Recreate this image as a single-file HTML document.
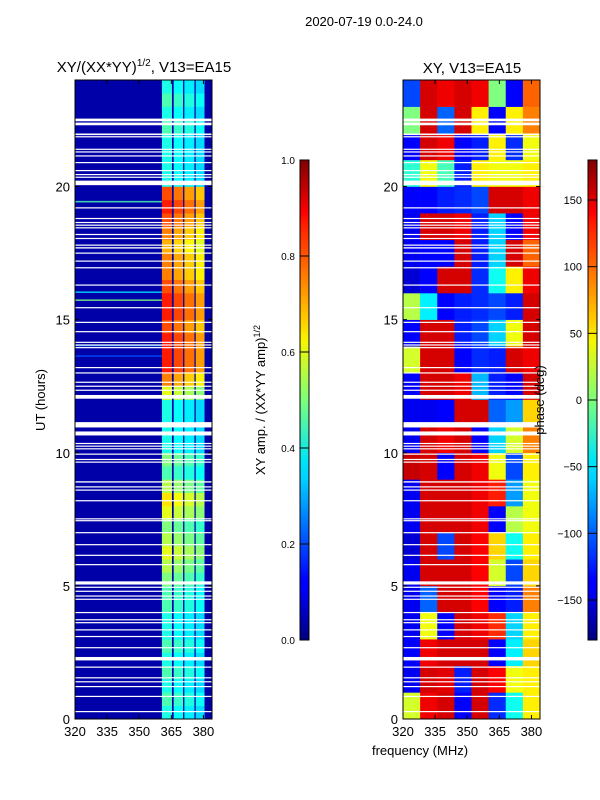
<!DOCTYPE html>
<html><head><meta charset="utf-8"><style>
html,body{margin:0;padding:0;background:#fff;}
svg{display:block;font-family:"Liberation Sans",sans-serif;}
</style></head><body>
<svg id="fig" width="600" height="800" viewBox="0 0 600 800" xmlns="http://www.w3.org/2000/svg">
<defs>
<linearGradient id="jetV" x1="0" y1="1" x2="0" y2="0">
<stop offset="0" stop-color="#00007f"/><stop offset="0.11" stop-color="#0000ff"/><stop offset="0.125" stop-color="#0000ff"/>
<stop offset="0.34" stop-color="#00d4ff"/><stop offset="0.375" stop-color="#00e5f8"/><stop offset="0.5" stop-color="#7dff7a"/>
<stop offset="0.625" stop-color="#f8f500"/><stop offset="0.66" stop-color="#ffd200"/><stop offset="0.875" stop-color="#ff1400"/>
<stop offset="0.89" stop-color="#ff0000"/><stop offset="1" stop-color="#7f0000"/>
</linearGradient>
</defs>
<text x="364" y="26" font-size="13" text-anchor="middle">2020-07-19 0.0-24.0</text>
<text x="144" y="72" font-size="15" text-anchor="middle">XY/(XX*YY)<tspan font-size="10" dy="-6">1/2</tspan><tspan dy="6">, V13=EA15</tspan></text>
<text x="472" y="73" font-size="15" text-anchor="middle">XY, V13=EA15</text>
<g id="ampPanel"></g>
<g id="phasePanel"></g>
<g id="axes"></g>
<text transform="translate(45,400) rotate(-90)" font-size="13" text-anchor="middle">UT (hours)</text>
<text transform="translate(265,400) rotate(-90)" font-size="13" text-anchor="middle">XY amp. / (XX*YY amp)<tspan font-size="9" dy="-5">1/2</tspan></text>
<text transform="translate(544,400) rotate(-90)" font-size="13" text-anchor="middle">phase (deg)</text>
<text x="420" y="755" font-size="13" text-anchor="middle">frequency (MHz)</text>
<rect x="300" y="160" width="9" height="480" fill="url(#jetV)" stroke="#000" stroke-width="1"/>
<rect x="588" y="160" width="9" height="480" fill="url(#jetV)" stroke="#000" stroke-width="1"/>
<g id="cbticks"></g>
</svg>
<script>
// ---- data ----
const ampHalfHour = [0.4,0.45,0.4,0.45,0.4,0.45,0.4,0.4,0.45,0.45,0.5,0.55,0.6,0.55,0.5,0.6,0.65,0.55,0.45,0.5,0.4,0.4,0.4,0.4,
  0.6,0.75,0.85,0.85,0.85,0.8,0.85,0.85,0.8,0.75,0.75,0.7,0.75,0.8,0.85,0.8,0.4,0.4,0.4,0.4,0.45,0.4,0.45,0.4];
const stripeFreqs = [[360.6,365.3],[366.1,370.5],[371.1,375.8],[376.4,380.5]];
const stripeScale = [1.0,0.95,0.9,0.85];
const ampBackground = 0.04;
const ampStreaks = [[19.4,0.45],[16.0,0.35],[15.7,0.5],[14.0,0.3],[13.6,0.2]];
const phaseFreqEdges = [320,328,336,344,352,360,368,376,384];
const phaseHourly = [
 [30,140,150,-135,150,-120,-40,50],
 [-140,150,145,-125,150,135,40,50],
 [-135,140,150,150,150,-135,-50,60],
 [-140,40,-135,150,140,120,-60,50],
 [-140,-100,150,150,135,-135,-125,90],
 [-140,150,150,150,135,30,-110,60],
 [-150,150,-110,150,135,60,-40,50],
 [-140,150,150,150,140,-135,20,40],
 [-140,150,150,150,140,125,-80,40],
 [155,150,-135,150,140,40,-110,50],
 [-140,150,140,150,-135,-60,30,90],
 [-140,-140,-135,150,150,-100,-80,60],
 [-135,150,150,140,-70,-125,-135,150],
 [30,150,150,-135,-120,-125,150,140],
 [-135,150,150,-125,-110,-60,40,150],
 [20,-50,-135,-125,-120,-110,-125,150],
 [-150,-135,150,150,-120,-40,50,140],
 [-140,-135,-135,150,-125,-60,150,100],
 [-140,150,150,140,-125,-60,-135,140],
 [-135,-135,-125,-120,-110,150,150,140],
 [-30,40,-20,-125,50,40,40,50],
 [-135,150,140,-135,-125,50,-120,40],
 [0,150,-100,150,50,-135,50,90],
 [-110,150,140,150,140,0,-135,100]];
const flagged = [[22.45,22.55],[22.3,22.4],[21.93,21.99],[21.85,21.89],[21.38,21.42],[21.28,21.32],[21.13,21.17],[20.88,20.92],
 [20.58,20.62],[20.43,20.47],[20.33,20.37],[20.05,20.22],[19.18,19.22],[18.78,18.82],[18.63,18.67],[18.53,18.57],[18.43,18.47],
 [18.18,18.22],[18.03,18.07],[17.78,17.82],[17.67,17.72],[17.48,17.52],[17.18,17.22],[16.93,16.97],[16.28,16.32],[15.43,15.47],
 [14.88,14.92],[14.53,14.57],[14.13,14.17],[14.03,14.07],[13.93,13.97],[13.18,13.22],[12.98,13.02],[12.63,12.67],[12.48,12.52],
 [12.33,12.37],[12.03,12.17],[10.95,11.15],[10.65,10.8],[10.33,10.37],[10.23,10.27],[10.13,10.17],[9.93,9.97],[9.73,9.77],
 [9.63,9.67],[8.88,8.93],[8.7,8.74],[8.58,8.62],[8.18,8.22],[7.5,7.54],[7.43,7.47],[6.98,7.02],[6.53,6.57],[6.13,6.17],[5.78,5.82],
 [5.05,5.17],[4.93,4.97],[4.78,4.82],[4.6,4.64],[4.48,4.52],[3.98,4.02],[3.71,3.75],[3.6,3.64],[3.33,3.37],[3.08,3.12],[2.66,2.7],
 [2.2,2.33],[1.93,1.97],[1.53,1.57],[1.38,1.42],[1.2,1.24],[0.83,0.87],[0.26,0.3]];
const ampTicks = [0,0.2,0.4,0.6,0.8,1.0];
const phaseTicks = [-150,-100,-50,0,50,100,150];
const hourTicks = [0,5,10,15,20];
const freqTicks = [320,335,350,365,380];

// ---- axes ----
const T0=719, T1=80, F0=320, F1=384;
const yT = h => T0 + (T1-T0)*h/24;
const xA = f => 75 + (212-75)*(f-F0)/(F1-F0);
const xP = f => 403 + (540-403)*(f-F0)/(F1-F0);
const NS='http://www.w3.org/2000/svg';
function jet(v){v=Math.max(0,Math.min(1,v));
 const c=x=>Math.round(255*Math.max(0,Math.min(1,x)));
 return `rgb(${c(1.5-Math.abs(4*v-3))},${c(1.5-Math.abs(4*v-2))},${c(1.5-Math.abs(4*v-1))})`;}
function mk(tag,attrs,parent){const e=document.createElementNS(NS,tag);for(const k in attrs)e.setAttribute(k,attrs[k]);parent.appendChild(e);return e;}

const amp=document.getElementById('ampPanel');
const bg=mk('rect',{x:75,y:80,width:137,height:639,fill:jet(ampBackground)},amp);


ampStreaks.forEach(s=>{
 const r=mk('rect',{x:75,y:yT(s[0]+0.06),width:90,height:yT(s[0])-yT(s[0]+0.06),fill:jet(s[1]),opacity:0.8},amp);
 
 
});
ampHalfHour.forEach((v,i)=>{
 stripeFreqs.forEach((sf,j)=>{
  const r=mk('rect',{x:xA(sf[0]),y:yT((i+1)/2),width:xA(sf[1])-xA(sf[0]),height:yT(i/2)-yT((i+1)/2)+0.3,fill:jet(v*stripeScale[j])},amp);
  
  
 });
});
const ph=document.getElementById('phasePanel');
phaseHourly.forEach((row,h)=>{
 row.forEach((v,j)=>{
  const r=mk('rect',{x:xP(phaseFreqEdges[j]),y:yT(h+1),width:xP(phaseFreqEdges[j+1])-xP(phaseFreqEdges[j])+0.3,height:yT(h)-yT(h+1)+0.3,fill:jet((v+180)/360)},ph);
  
  
 });
});
flagged.forEach(f=>{
 [[75,137],[403,137]].forEach(p=>{
  const r=mk('rect',{x:p[0],y:yT(f[1]),width:p[1],height:Math.max(1.2,yT(f[0])-yT(f[1])),fill:'#fff'},p[0]<300?amp:ph);
  
  
 });
});
const ax=document.getElementById('axes');
[[75,xA],[403,xP]].forEach(([x0,xf])=>{
 const b=mk('rect',{x:x0,y:80,width:137,height:639,fill:'none',stroke:'#000','stroke-width':1},ax);
 
 
 hourTicks.forEach(h=>{
  mk('line',{x1:x0,x2:x0+4,y1:yT(h),y2:yT(h),stroke:'#000'},ax);
  mk('line',{x1:x0+133,x2:x0+137,y1:yT(h),y2:yT(h),stroke:'#000'},ax);
  const t=mk('text',{x:x0-5,y:yT(h)+5,'font-size':13,'text-anchor':'end'},ax);t.textContent=h;
  
  
 });
 freqTicks.forEach(f=>{
  mk('line',{x1:xf(f),x2:xf(f),y1:719,y2:715,stroke:'#000'},ax);
  mk('line',{x1:xf(f),x2:xf(f),y1:80,y2:84,stroke:'#000'},ax);
  const t=mk('text',{x:xf(f),y:736,'font-size':13,'text-anchor':'middle'},ax);t.textContent=f;
  
  
 });
});
const cb=document.getElementById('cbticks');
ampTicks.forEach(v=>{
 const y=640-480*v;
 mk('line',{x1:300,x2:309,y1:y,y2:y,stroke:'#000'},cb);
 const t=mk('text',{x:295,y:y+4,'font-size':10,'text-anchor':'end'},cb);t.textContent=v.toFixed(1);
 
 
});
phaseTicks.forEach(v=>{
 const y=640-480*(v+180)/360;
 mk('line',{x1:588,x2:597,y1:y,y2:y,stroke:'#000'},cb);
 const t=mk('text',{x:582,y:y+4,'font-size':11,'text-anchor':'end'},cb);t.textContent=v<0?'\u2212'+(-v):v;
 
 
});
</script>
</body></html>
